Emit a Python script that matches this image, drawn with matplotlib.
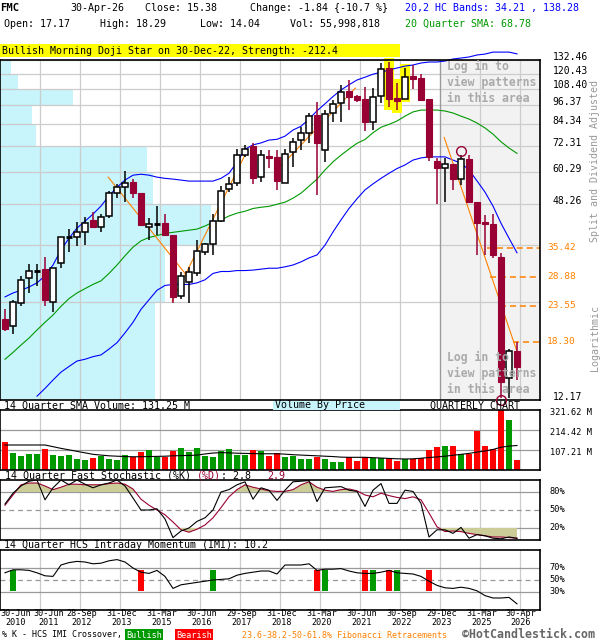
import numpy as np
import matplotlib
matplotlib.use('Agg')
import matplotlib.pyplot as plt
import matplotlib.transforms as mtransforms
from matplotlib.patches import Rectangle

plt.rcParams['font.family'] = ['DejaVu Sans Mono']

# ---- data (quarterly candles, 30-Jun-2010 .. 30-Apr-2026) ----
opens = [21.5, 20.4, 24.1, 28.7, 30.3, 30.5, 24.3, 31.8, 38.3, 38.3,
         39.6, 43.1, 41.0, 44.2, 52.0, 54.2, 56.3, 52.0, 41.0, 41.9,
         42.1, 38.7, 25.3, 27.9, 29.6, 34.4, 36.3, 42.8, 53.5, 55.9,
         68.0, 72.5, 58.2, 67.5, 67.1, 55.9, 69.4, 75.5, 79.2, 90.0,
         70.4, 91.5, 97.7, 106.6, 102.8, 100.9, 85.7, 102.8, 125.2, 101.5,
         100.9, 118.8, 117.0, 100.6, 65.4, 62.2, 64.0, 57.4, 66.1, 48.8,
         42.4, 41.9, 33.3, 14.2, 17.17]
highs = [23.0, 24.6, 29.1, 31.6, 31.6, 33.2, 30.7, 38.3, 40.5, 42.4,
         43.9, 45.6, 44.9, 52.8, 55.5, 60.6, 57.4, 52.0, 43.6, 47.5,
         44.9, 38.7, 29.9, 31.0, 37.4, 36.6, 44.9, 54.6, 58.2, 70.8,
         73.0, 74.0, 70.4, 70.4, 70.4, 70.8, 76.5, 82.6, 91.5, 98.6,
         93.2, 100.0, 111.3, 115.1, 103.5, 109.8, 109.0, 129.7, 130.6, 112.9,
         125.2, 127.9, 120.3, 100.9, 66.7, 66.7, 64.0, 67.8, 67.8, 48.8,
         44.6, 44.9, 34.1, 17.4, 18.29]
lows = [19.8, 19.4, 23.6, 25.8, 27.1, 23.6, 22.6, 30.7, 34.4, 35.9,
        36.1, 40.7, 39.6, 43.6, 50.3, 48.8, 50.3, 41.6, 37.4, 38.7,
        38.7, 24.1, 24.8, 24.1, 29.1, 33.7, 33.7, 42.4, 52.4, 54.6,
        67.1, 55.5, 56.3, 62.0, 53.2, 55.9, 62.4, 70.4, 74.0, 51.4,
        64.5, 85.7, 85.7, 93.2, 98.6, 80.5, 81.0, 97.7, 95.0, 93.2,
        100.9, 108.3, 100.0, 65.2, 48.1, 48.8, 53.2, 55.1, 48.8, 33.7,
        33.7, 33.0, 12.3, 12.3, 14.04]
closes = [20.1, 24.3, 28.3, 30.1, 30.1, 24.6, 30.7, 38.1, 38.1, 39.6,
          42.1, 41.0, 43.9, 52.0, 54.2, 55.9, 52.0, 41.6, 41.9, 41.9,
          38.7, 25.1, 29.1, 29.9, 34.6, 36.3, 42.8, 52.8, 55.5, 68.0,
          71.0, 57.7, 68.0, 66.5, 56.7, 68.5, 74.4, 79.2, 89.4, 74.0,
          90.6, 97.1, 106.0, 102.2, 100.0, 85.7, 102.2, 124.3, 100.9, 99.5,
          117.9, 116.3, 100.0, 67.1, 62.2, 64.0, 57.4, 66.1, 48.8, 42.1,
          41.9, 33.7, 13.8, 17.22, 15.38]
volume_m = [152, 93, 75, 86, 86, 113, 80, 75, 80, 59,
            54, 64, 75, 59, 54, 80, 71, 96, 107, 71,
            71, 104, 120, 96, 118, 75, 70, 104, 114, 80,
            80, 107, 102, 75, 93, 70, 75, 61, 59, 71,
            60, 45, 45, 68, 50, 70, 63, 63, 66, 48,
            57, 57, 66, 107, 123, 130, 130, 87, 87, 211,
            130, 112, 321, 268, 56]
vol_sma14 = [134, 134, 134, 134, 134, 134, 125, 116, 108, 100,
             92, 84, 80, 76, 74, 72, 71, 71, 72, 73,
             74, 76, 77, 78, 80, 86, 91, 93, 92, 90,
             89, 88, 87, 87, 87, 85, 82, 80, 78, 76,
             74, 72, 69, 68, 68, 68, 66, 64, 62, 60,
             59, 60, 63, 67, 70, 74, 79, 84, 89, 96,
             102, 110, 122, 128, 131.25]
hc_upper = [25.1, 25.8, 26.3, 26.9, 27.7, 29.1, 31.4, 34.9, 37.9, 40.7,
            42.7, 44.9, 47.5, 51.0, 54.2, 57.0, 59.0, 59.4, 59.0, 58.2,
            57.7, 57.4, 57.0, 56.6, 56.6, 56.6, 56.6, 57.7, 59.8, 64.6,
            70.8, 73.0, 74.0, 75.5, 75.9, 77.6, 81.0, 83.2, 87.5, 92.7,
            97.4, 102.5, 107.3, 111.3, 115.1, 117.4, 119.9, 121.6, 123.5, 125.2,
            126.9, 127.9, 129.7, 130.6, 130.6, 131.5, 133.4, 134.3, 135.3, 137.2,
            138.1, 140.0, 140.0, 140.0, 138.28]
hc_lower = [np.nan, np.nan, np.nan, np.nan, 12.5, 13.2, 14.0, 14.8, 15.4, 16.0,
            16.2, 16.5, 16.7, 17.4, 18.2, 19.5, 21.0, 23.0, 24.6, 26.3,
            27.2, 27.4, 27.4, 27.4, 27.7, 28.3, 29.6, 30.0, 30.0, 30.2,
            30.2, 30.3, 30.5, 30.7, 30.7, 31.0, 31.4, 32.1, 33.0, 33.7,
            36.1, 39.6, 43.1, 46.7, 50.0, 53.2, 55.5, 57.7, 59.8, 61.8,
            63.4, 65.6, 66.6, 67.1, 67.1, 67.1, 65.6, 64.2, 61.2, 56.7,
            52.4, 47.5, 42.1, 37.9, 34.21]
sma20 = [16.2, 17.0, 17.9, 18.8, 19.9, 21.0, 22.1, 23.5, 24.8, 25.8,
         26.6, 27.4, 28.1, 29.6, 31.4, 33.5, 35.6, 37.2, 38.1, 38.6,
         39.2, 39.5, 39.8, 40.1, 40.4, 41.3, 42.4, 43.1, 44.3, 45.2,
         45.8, 46.7, 47.1, 47.4, 48.1, 48.8, 50.2, 52.0, 54.6, 57.4,
         61.2, 64.8, 67.9, 70.9, 73.8, 75.8, 79.5, 82.6, 84.3, 86.3,
         89.3, 92.0, 93.2, 93.2, 93.2, 92.6, 91.3, 89.3, 87.5, 85.1,
         82.2, 78.7, 74.6, 71.4, 68.78]
stoch_k = [60, 78, 90, 98, 100, 67, 87, 100, 92, 100,
           93, 87, 92, 95, 100, 90, 70, 50, 50, 52,
           35, 4, 15, 20, 31, 37, 50, 80, 84, 92,
           97, 68, 87, 83, 66, 83, 97, 98, 99, 64,
           87, 88, 89, 83, 81, 56, 83, 94, 61, 61,
           83, 81, 61, 5, 17, 17, 11, 21, 3, 9,
           7, 3, 2, 5, 2.8]
stoch_d = [58, 75, 92, 95, 95, 90, 84, 88, 93, 93,
           92, 92, 92, 94, 95, 93, 85, 68, 58, 50,
           42, 30, 17, 13, 18, 25, 37, 54, 72, 84,
           92, 88, 85, 82, 81, 81, 84, 92, 97, 88,
           83, 81, 84, 85, 82, 75, 72, 78, 74, 71,
           69, 72, 67, 45, 22, 14, 15, 14, 11, 9,
           7, 5, 5, 4, 2.9]
imi = [62, 67, 67, 66, 62, 57, 56, 75, 79, 81,
       80, 77, 78, 82, 84, 80, 70, 63, 61, 66,
       56, 36, 42, 44, 46, 48, 50, 51, 52, 58,
       61, 63, 65, 65, 60, 75, 75, 75, 77, 66,
       68, 68, 69, 65, 62, 61, 61, 63, 66, 62,
       61, 60, 56, 48, 41, 37, 36, 38, 36, 32,
       24, 20, 20, 21, 10.2]
# %K / IMI crossovers: candle index, bullish?
crossovers = [(1, True), (17, False), (26, True), (39, False), (40, True),
              (45, False), (46, True), (48, False), (49, True), (53, False)]
# volume by price, per price band from the top (millions)
vbp_m = [55, 90, 365, 160, 180, 735, 765, 1055, 825, 775]
price_grid = [132.46, 120.43, 108.40, 96.37, 84.34, 72.31, 60.29, 48.26, 36.23, 24.20, 12.17]
price_labels = ['132.46', '120.43', '108.40', '96.37', '84.34', '72.31', '60.29', '48.26', None, None, '12.17']
fib_levels = [35.42, 28.88, 23.55, 18.30]
fib_start = [60.3, 60.6, 61.9, 63.5]
# trend lines: (i0, p0, i1, p1)
trendlines = [(12.9, 58.2, 22.75, 29.1), (20.9, 24.4, 30.0, 68.0),
              (34.0, 61.2, 43.8, 108.7), (54.9, 76.9, 64.0, 17.1)]
pattern_idx = [48, 49, 50]
circle_marks = [(57, 70.0), (62, 12.17)]
date_labels = ['30-Jun\n2010', '30-Jun\n2011', '28-Sep\n2012', '31-Dec\n2013', '31-Mar\n2015',
               '30-Jun\n2016', '29-Sep\n2017', '31-Dec\n2018', '31-Mar\n2020', '30-Jun\n2021',
               '30-Sep\n2022', '29-Dec\n2023', '31-Mar\n2025', '30-Apr\n2026']
date_label_px = [16, 49, 82, 122, 162, 202, 242, 282, 322, 362, 402, 442, 482, 521]

W, H = 600, 640
RED = '#990033'
n = len(closes)
idx = np.arange(n)


def box(x0, y0, x1, y1):
    return [x0 / W, 1 - y1 / H, (x1 - x0) / W, (y1 - y0) / H]


def px2x(px):
    return (px - 5) / 8.0


def ftext(x, y, s, **kw):
    kw.setdefault('fontsize', 7.2)
    kw.setdefault('va', 'center')
    return fig.text(x / W, 1 - y / H, s, **kw)


fig = plt.figure(figsize=(W / 100, H / 100), dpi=100)
fig.patch.set_facecolor('white')

ax_p = fig.add_axes(box(0, 60, 540, 400))
ax_v = fig.add_axes(box(0, 410, 540, 470))
ax_s = fig.add_axes(box(0, 480, 540, 540))
ax_i = fig.add_axes(box(0, 550, 540, 610))

vgrid = [px2x(p) for p in range(40, 521, 40)]
for ax in (ax_p, ax_v, ax_s, ax_i):
    ax.set_xlim(px2x(0), px2x(540))
    ax.tick_params(left=False, bottom=False, labelleft=False, labelbottom=False)
    for sp in ax.spines.values():
        sp.set_linewidth(1.2)
    for gx in vgrid:
        ax.axvline(gx, color='#cccccc', lw=0.9, zorder=0.5)

# ---- price panel ----
ax_p.set_yscale('log')
ax_p.set_ylim(12.17, 132.46)
ax_p.yaxis.set_minor_locator(matplotlib.ticker.NullLocator())
ax_p.axvspan(px2x(440), px2x(540), color='#f2f2f2', zorder=0.1, lw=0)
ax_p.axvline(px2x(440), color='#999999', lw=0.9, zorder=0.6)
for g in price_grid:
    ax_p.axhline(g, color='#cccccc', lw=0.9, zorder=0.5)

blend = mtransforms.blended_transform_factory(ax_p.transAxes, ax_p.transData)
vbp_full = 2700.0
for k, v in enumerate(vbp_m):
    top, bot = price_grid[k], price_grid[k + 1]
    ax_p.add_patch(Rectangle((0, bot), v / vbp_full, top - bot, transform=blend,
                             facecolor='#c8f4fc', edgecolor='none', zorder=0.3))

for k in pattern_idx:
    ax_p.add_patch(Rectangle((k - 0.62, lows[k] / 1.022), 1.24, highs[k] * 1.03 - lows[k] / 1.022,
                             facecolor='#ffff00', edgecolor='none', zorder=1, clip_on=False))

ax_p.plot(idx, hc_upper, color='#0000ff', lw=0.8, zorder=2, clip_on=False)
ax_p.plot(idx, hc_lower, color='#0000ff', lw=0.8, zorder=2)
ax_p.plot(idx, sma20, color='#009900', lw=0.8, zorder=2)
for i0, p0, i1, p1 in trendlines:
    ax_p.plot([i0, i1], [p0, p1], color='#ff8000', lw=0.8, zorder=2.5)

bw = 0.75
for i in range(n):
    o, h, l, c = opens[i], highs[i], lows[i], closes[i]
    if abs(c - o) / o < 0.01:
        col = 'black'
        ax_p.vlines(i, l, h, color=col, lw=1.1, zorder=3, clip_on=False)
        ax_p.hlines((o + c) / 2, i - bw / 2, i + bw / 2, color=col, lw=2.0, zorder=3)
    elif c > o:
        ax_p.vlines(i, l, h, color='black', lw=1.1, zorder=3, clip_on=False)
        ax_p.add_patch(Rectangle((i - bw / 2, o), bw, c - o, facecolor='white',
                                 edgecolor='black', lw=1.1, zorder=4, clip_on=False))
    else:
        ax_p.vlines(i, l, h, color=RED, lw=1.1, zorder=3, clip_on=False)
        ax_p.add_patch(Rectangle((i - bw / 2, c), bw, o - c, facecolor=RED,
                                 edgecolor=RED, lw=0.8, zorder=4, clip_on=False))

for k, p in circle_marks:
    ax_p.plot([k], [p], marker='o', ms=7, mfc='none', mec=RED, mew=1.0, zorder=5, clip_on=False)

for lev, st in zip(fib_levels, fib_start):
    ax_p.plot([st, px2x(540)], [lev, lev], color='#ff8000', lw=1.1, ls=(0, (4, 2.5)), zorder=2.5)
    ax_p.annotate(f'{lev:.2f}', xy=(1, lev), xycoords=('axes fraction', 'data'),
                  xytext=(5, 0), textcoords='offset points', va='center',
                  fontsize=6.8, color='#ff8000', annotation_clip=False)
for g, lab in zip(price_grid, price_labels):
    if lab:
        ax_p.annotate(lab, xy=(1, g), xycoords=('axes fraction', 'data'),
                      xytext=(9, 2.2), textcoords='offset points', va='center',
                      fontsize=7, color='black', annotation_clip=False)

login = 'Log in to\nview patterns\nin this area'
for ytop in (60, 351):
    ftext(447, ytop, login, va='top', fontsize=8.3, fontweight='bold',
          color='#aaaaaa', linespacing=1.3)

# ---- volume panel ----
vol_cols = []
for i in range(n):
    ref = closes[i - 1] if i > 0 else opens[i]
    vol_cols.append('#009900' if closes[i] >= ref else '#ff0000')
ax_v.set_ylim(0, 321.62)
for g in (107.21, 214.42):
    ax_v.axhline(g, color='#999999', lw=0.9, zorder=0.6)
ax_v.bar(idx, volume_m, width=0.75, color=vol_cols, zorder=2)
ax_v.plot(idx, vol_sma14, color='black', lw=0.8, zorder=3)
for g, lab in ((321.62, '321.62 M'), (214.42, '214.42 M'), (107.21, '107.21 M')):
    ax_v.annotate(lab, xy=(1, g), xycoords=('axes fraction', 'data'), xytext=(7, -2),
                  textcoords='offset points', va='center', fontsize=6.2, annotation_clip=False)

# ---- stochastic panel ----
ax_s.set_ylim(0, 100)
for g, ls in ((80, '-'), (50, (0, (4, 3))), (20, '-')):
    ax_s.axhline(g, color='#999999', lw=0.9, ls=ls, zorder=0.6)
k_arr, d_arr = np.array(stoch_k, float), np.array(stoch_d, float)
ax_s.fill_between(idx, d_arr, 80, where=d_arr >= 80, interpolate=True, color='#cccc99', lw=0, zorder=1)
ax_s.fill_between(idx, d_arr, 20, where=d_arr <= 20, interpolate=True, color='#cccc99', lw=0, zorder=1)
ax_s.plot(idx, k_arr, color='black', lw=0.8, zorder=3)
ax_s.plot(idx, d_arr, color=RED, lw=0.8, zorder=2)
for g in (80, 50, 20):
    ax_s.annotate(f'{g}%', xy=(1, g), xycoords=('axes fraction', 'data'), xytext=(7, 0),
                  textcoords='offset points', va='center', fontsize=6.2, annotation_clip=False)

# ---- IMI panel ----
ax_i.set_ylim(0, 100)
for g, ls in ((70, '-'), (50, (0, (4, 3))), (30, '-')):
    ax_i.axhline(g, color='#999999', lw=0.9, ls=ls, zorder=0.6)
for k, bull in crossovers:
    ax_i.add_patch(Rectangle((k - 0.375, 32.3), 0.75, 34.4,
                             facecolor='#009900' if bull else '#ff0000', edgecolor='none', zorder=2))
ax_i.plot(idx, imi, color='black', lw=0.8, zorder=3)
for g in (70, 50, 30):
    ax_i.annotate(f'{g}%', xy=(1, g), xycoords=('axes fraction', 'data'), xytext=(7, 0),
                  textcoords='offset points', va='center', fontsize=6.2, annotation_clip=False)

# ---- date labels ----
for lab, px in zip(date_labels, date_label_px):
    ftext(px, 618, lab, ha='center', fontsize=6.1, linespacing=1.05)

# ---- header ----
ftext(0, 8, 'FMC', fontweight='bold', fontsize=7.6)
ftext(70, 8, '30-Apr-26')
ftext(145, 8, 'Close: 15.38')
ftext(250, 8, 'Change: -1.84 {-10.7 %}')
ftext(4, 24, 'Open: 17.17')
ftext(100, 24, 'High: 18.29')
ftext(200, 24, 'Low: 14.04')
ftext(290, 24, 'Vol: 55,998,818')
ftext(405, 8, '20,2 HC Bands: 34.21 , 138.28', color='#0000ff')
ftext(405, 24, '20 Quarter SMA: 68.78', color='#009900')
fig.add_artist(Rectangle((0, 1 - 57 / H), 400 / W, 13 / H, transform=fig.transFigure,
                         facecolor='#ffff00', edgecolor='none'))
ftext(2, 50.5, 'Bullish Morning Doji Star on 30-Dec-22, Strength: -212.4')

ftext(595, 161, 'Split and Dividend Adjusted', rotation=90, ha='center', color='#999999')
ftext(595, 338, 'Logarithmic', rotation=90, ha='center', color='#999999')

# ---- panel titles ----
ftext(4, 405.5, '14 Quarter SMA Volume: 131.25 M')
fig.add_artist(Rectangle((273 / W, 1 - 410 / H), 127 / W, 9 / H, transform=fig.transFigure,
                         facecolor='#c8f4fc', edgecolor='none'))
ftext(275, 405.5, 'Volume By Price')
ftext(430, 405.5, 'QUARTERLY CHART')
ftext(5, 476, '14 Quarter Fast Stochastic (%K) ')
ftext(197, 476, '(%D)', color=RED)
ftext(221, 476, ': 2.8')
ftext(267, 476, '2.9', color=RED)
ftext(4, 545.5, '14 Quarter HCS Intraday Momentum (IMI): 10.2')

# ---- footer ----
ftext(2, 635, '% K - HCS IMI Crossover,', fontsize=6.0)
fig.add_artist(Rectangle((125 / W, 1 - 640 / H), 38 / W, 11 / H, transform=fig.transFigure,
                         facecolor='#009900', edgecolor='none'))
ftext(144, 635, 'Bullish', color='white', ha='center', fontsize=6.1)
fig.add_artist(Rectangle((175 / W, 1 - 640 / H), 38 / W, 11 / H, transform=fig.transFigure,
                         facecolor='#ff0000', edgecolor='none'))
ftext(194, 635, 'Bearish', color='white', ha='center', fontsize=6.1)
ftext(242, 635, '23.6-38.2-50-61.8% Fibonacci Retracements', color='#ff8000', fontsize=6.0)
ftext(462, 634, '\u00a9HotCandlestick.com', color='#666666', fontsize=8.4, fontweight='bold')

fig.savefig('out.png', dpi=100)
